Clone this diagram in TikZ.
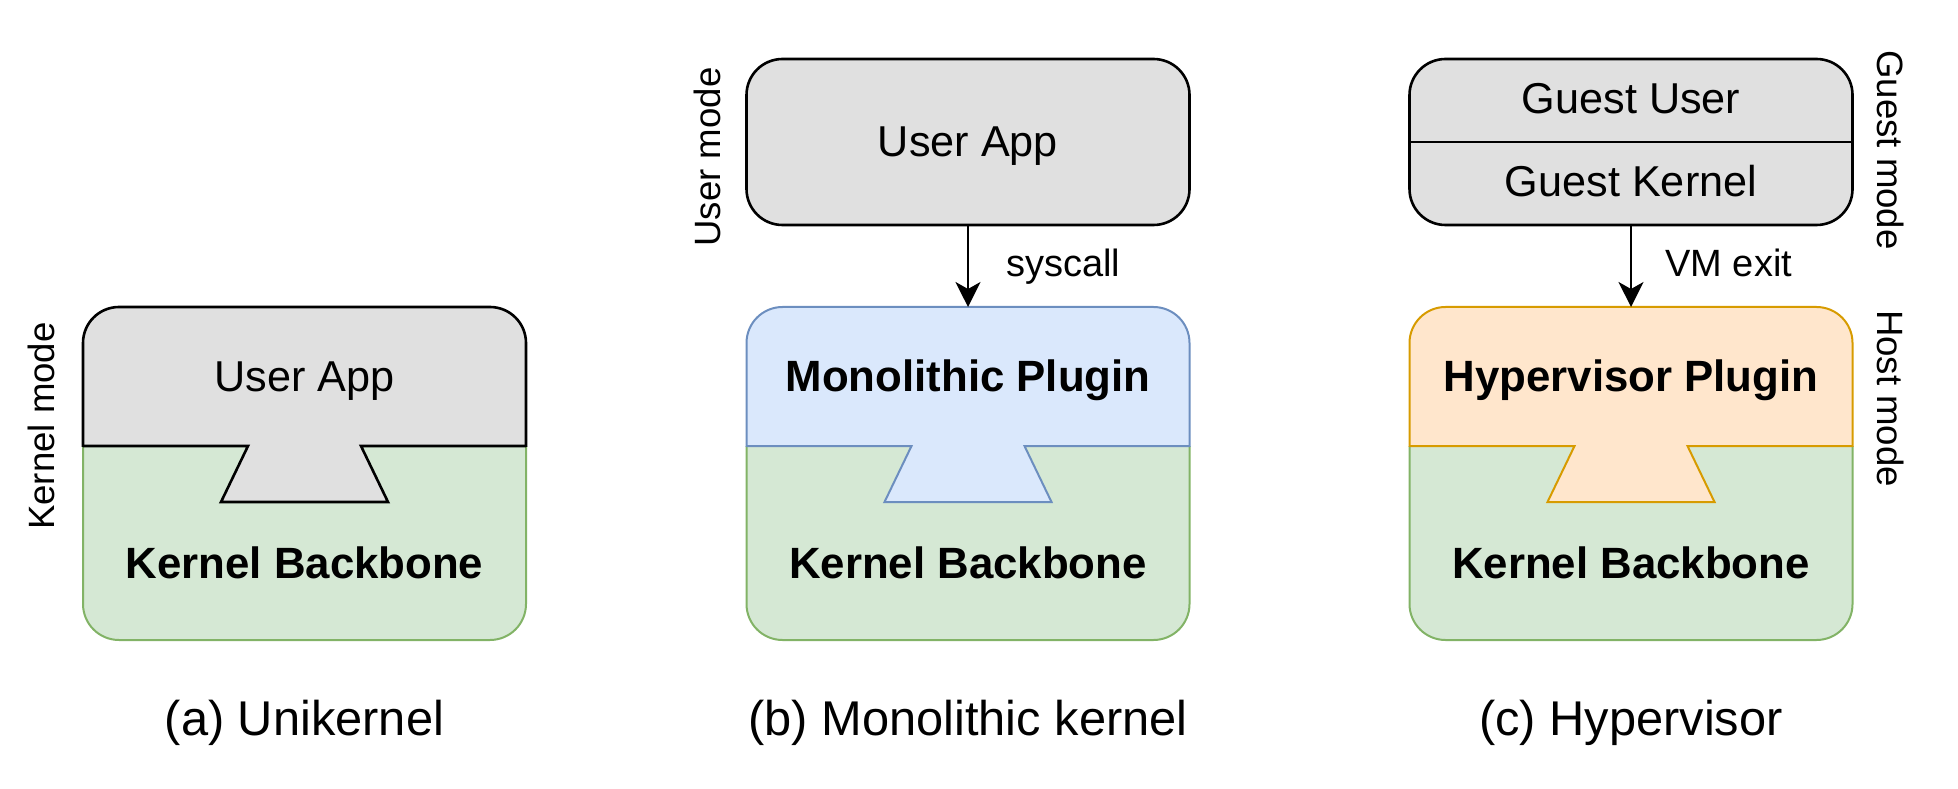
\documentclass[tikz,border=0pt]{standalone}
\usepackage{fontspec}
\setmainfont{Liberation Sans}
\usetikzlibrary{arrows.meta}
\definecolor{grayfill}{HTML}{E0E0E0}
\definecolor{greenfill}{HTML}{D5E8D4}
\definecolor{greenline}{HTML}{82B366}
\definecolor{bluefill}{HTML}{DAE8FC}
\definecolor{blueline}{HTML}{6C8EBF}
\definecolor{orangefill}{HTML}{FFE6CC}
\definecolor{orangeline}{HTML}{D79B00}
% #1 centre x, #2 fill, #3 line colour, #4 line width, #5 name
\newcommand\lowerpanel[5]{%
  \begin{scope}
    \clip[rounded corners=18pt] (#1-221.5,148) rectangle (#1+221.5,481);
    \fill[greenfill] (#1-222,147) rectangle (#1+222,482);
    \fill[#2] (#1-222,342) -- (#1-56.5,342) -- (#1-83.5,286) -- (#1+83.5,286)
      -- (#1+56.5,342) -- (#1+222,342) -- (#1+222,482) -- (#1-222,482) -- cycle;
  \end{scope}
  \begin{scope}
    \clip (#1-240,130) rectangle (#1+240,342);
    \draw[greenline, line width=1pt, rounded corners=18pt] (#1-221.5,148) rectangle (#1+221.5,481);
  \end{scope}
  \begin{scope}
    \clip (#1-240,342) rectangle (#1+240,495);
    \draw[#3, line width=#4, rounded corners=18pt] (#1-221.5,148) rectangle (#1+221.5,481);
  \end{scope}
  \draw[#3, line width=#4, line join=miter] (#1-221.5,342) -- (#1-56.5,342) -- (#1-83.5,286)
    -- (#1+83.5,286) -- (#1+56.5,342) -- (#1+221.5,342);
  \node[minimum width=221.5pt, minimum height=166.5pt, inner sep=0pt, outer sep=0pt] (#5) at (#1,314.5) {};
}
\begin{document}
\begin{tikzpicture}[x=0.5pt,y=0.5pt,
  boxtxt/.style={inner sep=0pt, anchor=base, font=\fontsize{21.6}{26}\selectfont},
  boldtxt/.style={boxtxt, font=\fontsize{21.9}{26}\selectfont\bfseries},
  captxt/.style={inner sep=0pt, anchor=base, font=\fontsize{24.4}{29}\selectfont},
  lbltxt/.style={inner sep=0pt, anchor=base west, font=\fontsize{19}{23}\selectfont},
  modetxt/.style={inner sep=0pt, font=\fontsize{18.3}{22}\selectfont},
  topbox/.style={draw=black, fill=grayfill, line width=1.3pt, rounded corners=18pt,
    minimum width=221.5pt, minimum height=83pt, inner sep=0pt, outer sep=0pt},
  callarrow/.style={draw=black, line width=1pt, -{Stealth[length=12.5pt, width=12.5pt, inset=3.5pt]}}
]
\useasboundingbox (0,0) rectangle (1958,788);

% (a) Unikernel
\lowerpanel{304.5}{grayfill}{black}{1.3pt}{apanel}
\node[boxtxt] (aapp) at (304.5,396) {User App};
\node[boldtxt] (akb) at (304.5,210) {Kernel Backbone};
\node[modetxt, rotate=90] (akm) at (41.5,362) {Kernel mode};
\node[captxt] (acap) at (304.5,53) {(a) Unikernel};

% (b) Monolithic kernel
\node[topbox] (bua) at (968,646) {};
\node[boxtxt] (buatxt) at (968,631) {User App};
\lowerpanel{968}{bluefill}{blueline}{1pt}{bpanel}
\node[boldtxt] (bmp) at (968,396) {Monolithic Plugin};
\node[boldtxt] (bkb) at (968,210) {Kernel Backbone};
\draw[callarrow] (bua.south) -- (bpanel.north);
\node[lbltxt] (bsys) at (1006,511) {syscall};
\node[modetxt, rotate=90] (bum) at (707,631) {User mode};
\node[captxt] (bcap) at (968,53) {(b) Monolithic kernel};

% (c) Hypervisor
\node[topbox] (cgb) at (1631,646) {};
\draw[black, line width=1.3pt] (cgb.west) -- (cgb.east);
\node[boxtxt] (cgu) at (1631,674) {Guest User};
\node[boxtxt] (cgk) at (1631,591) {Guest Kernel};
\lowerpanel{1631}{orangefill}{orangeline}{1pt}{cpanel}
\node[boldtxt] (chp) at (1631,396) {Hypervisor Plugin};
\node[boldtxt] (ckb) at (1631,210) {Kernel Backbone};
\draw[callarrow] (cgb.south) -- (cpanel.north);
\node[lbltxt] (cvm) at (1665,511) {VM exit};
\node[modetxt, rotate=-90] (cgm) at (1891,638) {Guest mode};
\node[modetxt, rotate=-90] (chm) at (1891,389.5) {Host mode};
\node[captxt] (ccap) at (1631,53) {(c) Hypervisor};
\end{tikzpicture}
\end{document}
